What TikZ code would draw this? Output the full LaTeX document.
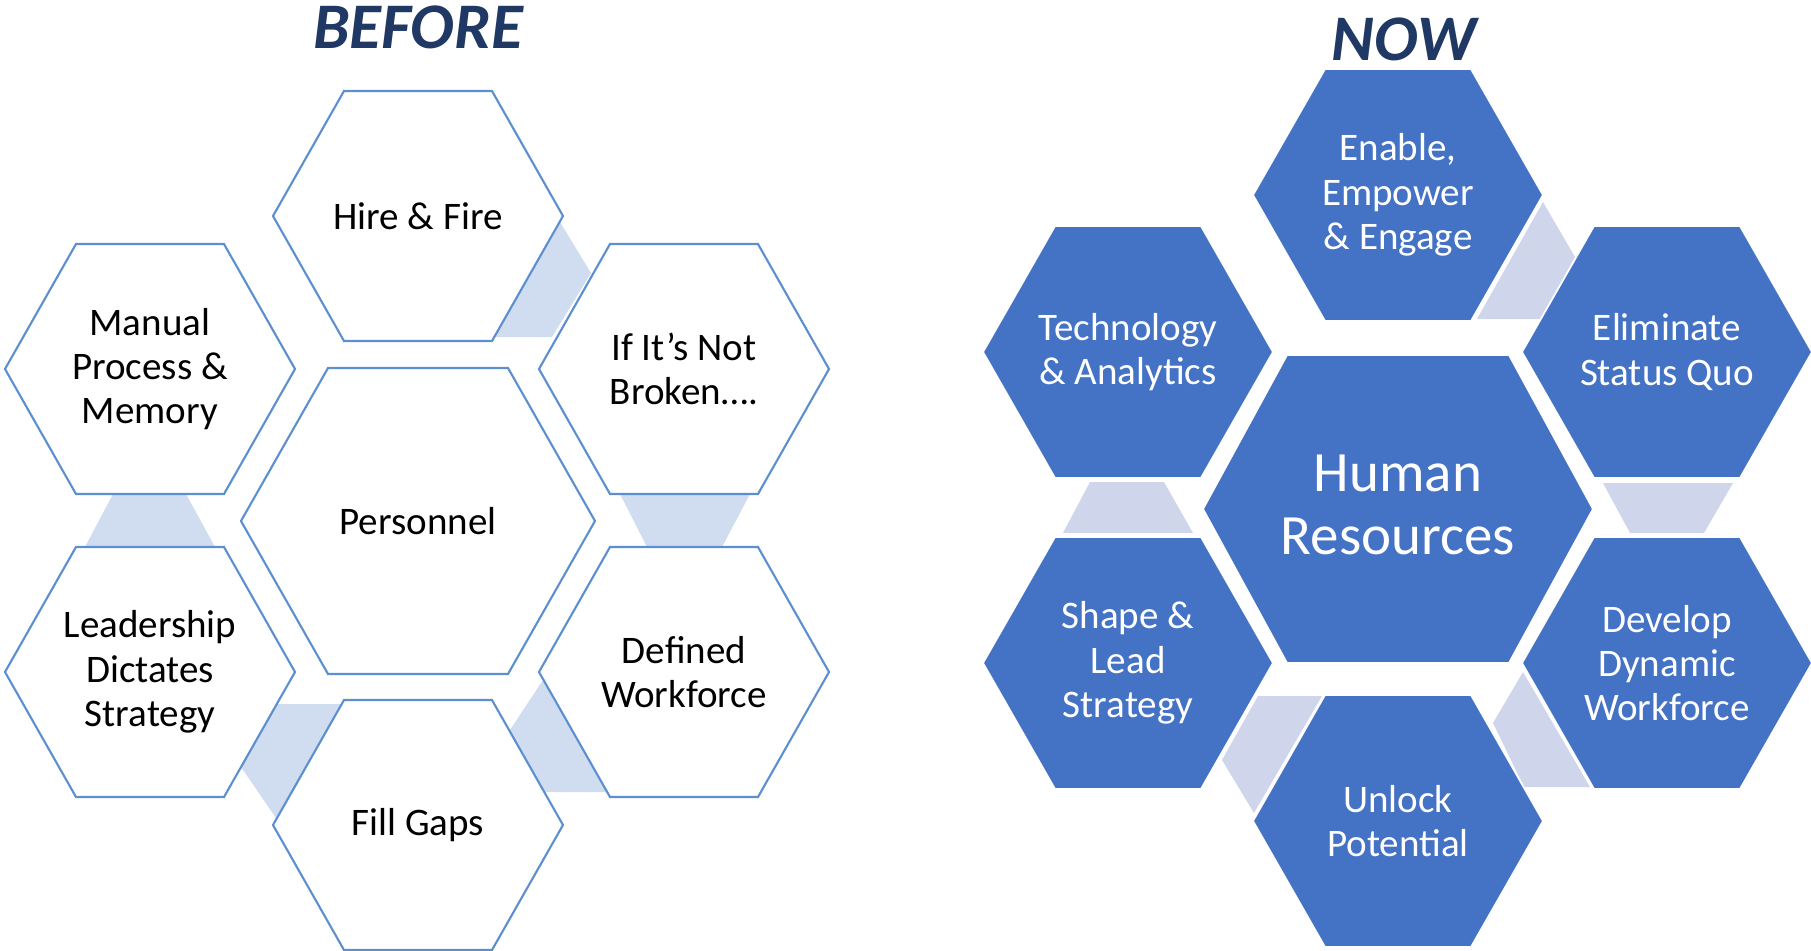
\documentclass[tikz,border=0pt]{standalone}
\usepackage{fontspec}
\setmainfont{Carlito}
\usetikzlibrary{calc}

\definecolor{hexblue}{HTML}{4472C4}
\definecolor{hexedge}{HTML}{5B8FCF}
\definecolor{linkpale}{HTML}{D0DCEF}
\definecolor{linkgrey}{HTML}{CFD5EA}
\definecolor{navy}{HTML}{1F3864}

\tikzset{
  oldhex/.style={draw=hexedge, line width=0.6pt, fill=white},
  newhex/.style={draw=white, line width=0.5pt, fill=hexblue},
  oldlink/.style={fill=linkpale},
  newlink/.style={fill=linkgrey},
  oldtxt/.style={align=center, font=\fontsize{11.1}{12.6}\selectfont},
  newtxt/.style={align=center, text=white, font=\fontsize{11.1}{12.6}\selectfont},
  bigtxt/.style={align=center, text=white, font=\fontsize{16.2}{18}\selectfont},
  heading/.style={anchor=base, text=navy, font=\fontsize{18.5}{22}\selectfont\bfseries\itshape}
}

% hexagon round a named point: style, centre, half width, half top edge, half height
\newcommand{\hexcell}[5]{%
  \path[#1] ($(#2)+(-#3,0)$) -- ($(#2)+(-#4,-#5)$) -- ($(#2)+(#4,-#5)$)
    -- ($(#2)+(#3,0)$) -- ($(#2)+(#4,#5)$) -- ($(#2)+(-#4,#5)$) -- cycle;}

\begin{document}
\begin{tikzpicture}[x=0.01cm, y=-0.01cm]
    \useasboundingbox (0,0) rectangle (1811,951);

    % before: old cluster
    \coordinate (hire) at (418,216);
    \coordinate (manual) at (150,369);
    \coordinate (ifnot) at (684,369);
    \coordinate (pers) at (418,521);
    \coordinate (lead) at (150,672);
    \coordinate (defd) at (684,672);
    \coordinate (fill) at (418,825);

    \fill[oldlink] ($(hire)+(142,6)$) -- ($(hire)+(173,57)$) -- ($(hire)+(134,121)$) -- ($(hire)+(75,121)$) -- cycle;
    \fill[oldlink] ($(ifnot)+(-64,125)$) -- ($(ifnot)+(66,125)$) -- ($(defd)+(38,-125)$) -- ($(defd)+(-37,-125)$) -- cycle;
    \fill[oldlink] ($(manual)+(-37,125)$) -- ($(manual)+(36,125)$) -- ($(lead)+(65,-125)$) -- ($(lead)+(-65,-125)$) -- cycle;
    \fill[oldlink] ($(lead)+(127,32)$) -- ($(fill)+(-74,-121)$) -- ($(fill)+(-142,-7)$) -- ($(lead)+(91,95)$) -- cycle;
    \fill[oldlink] ($(defd)+(-141,8)$) -- ($(fill)+(92,-95)$) -- ($(fill)+(127,-33)$) -- ($(defd)+(-74,120)$) -- cycle;

    \hexcell{oldhex}{hire}{145}{74}{125}
    \hexcell{oldhex}{manual}{145}{74}{125}
    \hexcell{oldhex}{ifnot}{145}{74}{125}
    \hexcell{oldhex}{pers}{177}{90}{153}
    \hexcell{oldhex}{lead}{145}{74}{125}
    \hexcell{oldhex}{defd}{145}{74}{125}
    \hexcell{oldhex}{fill}{145}{74}{125}

    \node[heading] (before) at (418,48) {BEFORE};
    \node[oldtxt] (t-hire) at (hire) {Hire \& Fire};
    \node[oldtxt] (t-manual) at (manual) {Manual\\Process \&\\Memory};
    \node[oldtxt] (t-ifnot) at (ifnot) {If It’s Not\\Broken….};
    \node[oldtxt] (t-pers) at (pers) {Personnel};
    \node[oldtxt] (t-lead) at (lead) {Leadership\\Dictates\\Strategy};
    \node[oldtxt] (t-defd) at (defd) {Defined\\Workforce};
    \node[oldtxt] (t-fill) at (fill) {Fill Gaps};

    % now: new cluster
    \coordinate (enab) at (1398,195);
    \coordinate (tech) at (1128,352);
    \coordinate (elim) at (1667,352);
    \coordinate (hr) at (1398,509);
    \coordinate (shape) at (1128,663);
    \coordinate (devl) at (1667,663);
    \coordinate (unlk) at (1398,821);

    \fill[newlink] ($(enab)+(145,7)$) -- ($(enab)+(177,62)$) -- ($(enab)+(143,124)$) -- ($(enab)+(79,124)$) -- cycle;
    \fill[newlink] ($(tech)+(-38,130)$) -- ($(tech)+(36,130)$) -- ($(shape)+(65,-130)$) -- ($(shape)+(-65,-130)$) -- cycle;
    \fill[newlink] ($(elim)+(-64,131)$) -- ($(elim)+(66,131)$) -- ($(devl)+(37,-130)$) -- ($(devl)+(-37,-130)$) -- cycle;
    \fill[newlink] ($(shape)+(130,33)$) -- ($(unlk)+(-76,-125)$) -- ($(unlk)+(-144,-8)$) -- ($(shape)+(94,97)$) -- cycle;
    \fill[newlink] ($(devl)+(-144,9)$) -- ($(unlk)+(95,-98)$) -- ($(unlk)+(126,-34)$) -- ($(devl)+(-77,124)$) -- cycle;

    \hexcell{newhex}{enab}{145}{73}{126}
    \hexcell{newhex}{tech}{145}{73}{126}
    \hexcell{newhex}{elim}{145}{73}{126}
    \hexcell{newhex}{hr}{195}{111}{154}
    \hexcell{newhex}{shape}{145}{73}{126}
    \hexcell{newhex}{devl}{145}{73}{126}
    \hexcell{newhex}{unlk}{145}{73}{126}

    \node[heading] (now) at (1404,60) {NOW};
    \node[newtxt] (t-enab) at (enab) {Enable,\\Empower\\\& Engage};
    \node[newtxt] (t-tech) at (tech) {Technology\\\& Analytics};
    \node[newtxt] (t-elim) at (elim) {Eliminate\\Status Quo};
    \node[bigtxt] (t-hr) at ($(hr)+(0,-4)$) {Human\\Resources};
    \node[newtxt] (t-shape) at (shape) {Shape \&\\Lead\\Strategy};
    \node[newtxt] (t-devl) at (devl) {Develop\\Dynamic\\Workforce};
    \node[newtxt] (t-unlk) at (unlk) {Unlock\\Potential};
\end{tikzpicture}
\end{document}
